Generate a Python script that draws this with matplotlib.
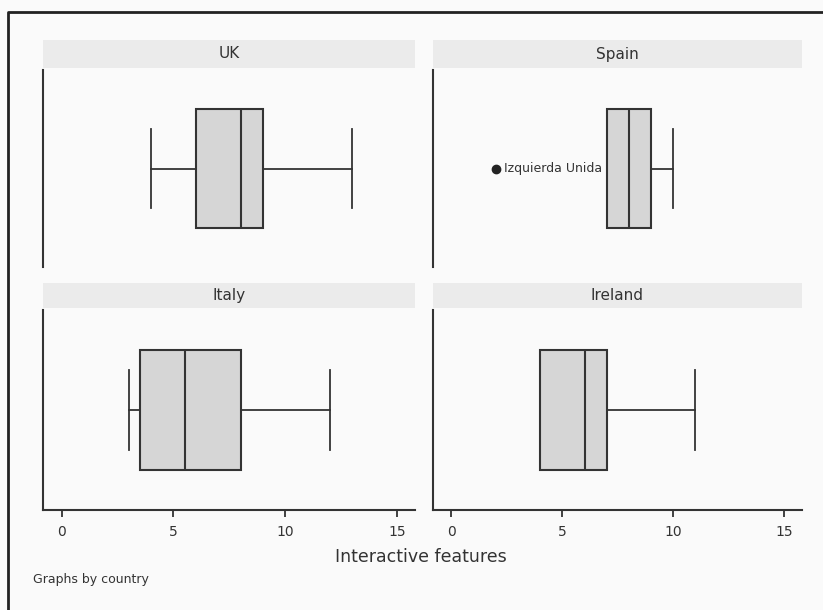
import numpy as np
import matplotlib.pyplot as plt
from matplotlib.lines import Line2D
from matplotlib.patches import Rectangle

# box summaries per country (interactive features)
countries = ["UK", "Spain", "Italy", "Ireland"]
whislo = [4, 7, 3, 4]
q1 = [6, 7, 3.5, 4]
med = [8, 8, 5.5, 6]
q3 = [9, 9, 8, 7]
whishi = [13, 10, 12, 11]
outliers = [[], [2], [], []]
outlier_labels = [[], ["Izquierda Unida"], [], []]
xticks = [0, 5, 10, 15]

line_col = "#333333"
box_col = "#d6d6d6"
strip_col = "#ebebeb"
bg_col = "#fafafa"

fig = plt.figure(figsize=(8.23, 6.10), dpi=100, facecolor=bg_col)
W, H = 823.0, 610.0

def fx(px):
    return px / W

def fy(py):
    return 1 - py / H

# panel extents in pixels: (x0, x1, y0, y1)
panels = [(43, 415, 70, 267), (433, 802, 70, 267),
          (43, 415, 310, 510), (433, 802, 310, 510)]
strips = [(40, 68), (40, 68), (283, 308), (283, 308)]

for i, name in enumerate(countries):
    x0, x1, y0, y1 = panels[i]
    ax = fig.add_axes([fx(x0), fy(y1), fx(x1 - x0), (y1 - y0) / H])
    ax.set_facecolor("none")
    stats = [dict(whislo=whislo[i], q1=q1[i], med=med[i], q3=q3[i],
                  whishi=whishi[i], fliers=outliers[i])]
    ax.bxp(stats, positions=[0.5], widths=0.6, capwidths=0.4, vert=False,
           patch_artist=True, showfliers=True,
           boxprops=dict(facecolor=box_col, edgecolor=line_col, linewidth=1.5),
           medianprops=dict(color=line_col, linewidth=1.5),
           whiskerprops=dict(color=line_col, linewidth=1.3),
           capprops=dict(color=line_col, linewidth=1.3),
           flierprops=dict(marker="o", markerfacecolor="#222222",
                           markeredgecolor="#222222", markersize=6))
    for v, lab in zip(outliers[i], outlier_labels[i]):
        ax.annotate(lab, (v, 0.5), xytext=(6, 0), textcoords="offset points",
                    va="center", ha="left", fontsize=9, color="#333333")
    ax.set_xlim(-0.83, 15.8)
    ax.set_ylim(0, 1)
    ax.set_yticks([])
    for s in ["top", "right"]:
        ax.spines[s].set_visible(False)
    ax.spines["left"].set_color(line_col)
    ax.spines["left"].set_linewidth(1.5)
    if i < 2:
        ax.spines["bottom"].set_visible(False)
        ax.set_xticks([])
    else:
        ax.spines["bottom"].set_color(line_col)
        ax.spines["bottom"].set_linewidth(1.5)
        ax.set_xticks(xticks)
        ax.tick_params(axis="x", length=5, width=1.3, color=line_col,
                       labelsize=10, labelcolor="#333333", pad=6)

    # strip title above each panel
    s0, s1 = strips[i]
    fig.patches.append(Rectangle((fx(x0), fy(s1)), fx(x1 - x0), (s1 - s0) / H,
                                 transform=fig.transFigure, facecolor=strip_col,
                                 edgecolor="none"))
    fig.text(fx((x0 + x1) / 2), fy((s0 + s1) / 2), name, ha="center",
             va="center", fontsize=11, color="#333333")

fig.text(fx(421), fy(557), "Interactive features", ha="center", va="center",
         fontsize=12.5, color="#333333")
fig.text(fx(33), fy(580), "Graphs by country", ha="left", va="center",
         fontsize=9, color="#333333")

# outer frame
fig.lines.append(Line2D([fx(8), fx(8), 1.0], [0, fy(12), fy(12)],
                        transform=fig.transFigure, color="#222222", linewidth=2))

fig.savefig("out.png", dpi=100, facecolor=bg_col)
